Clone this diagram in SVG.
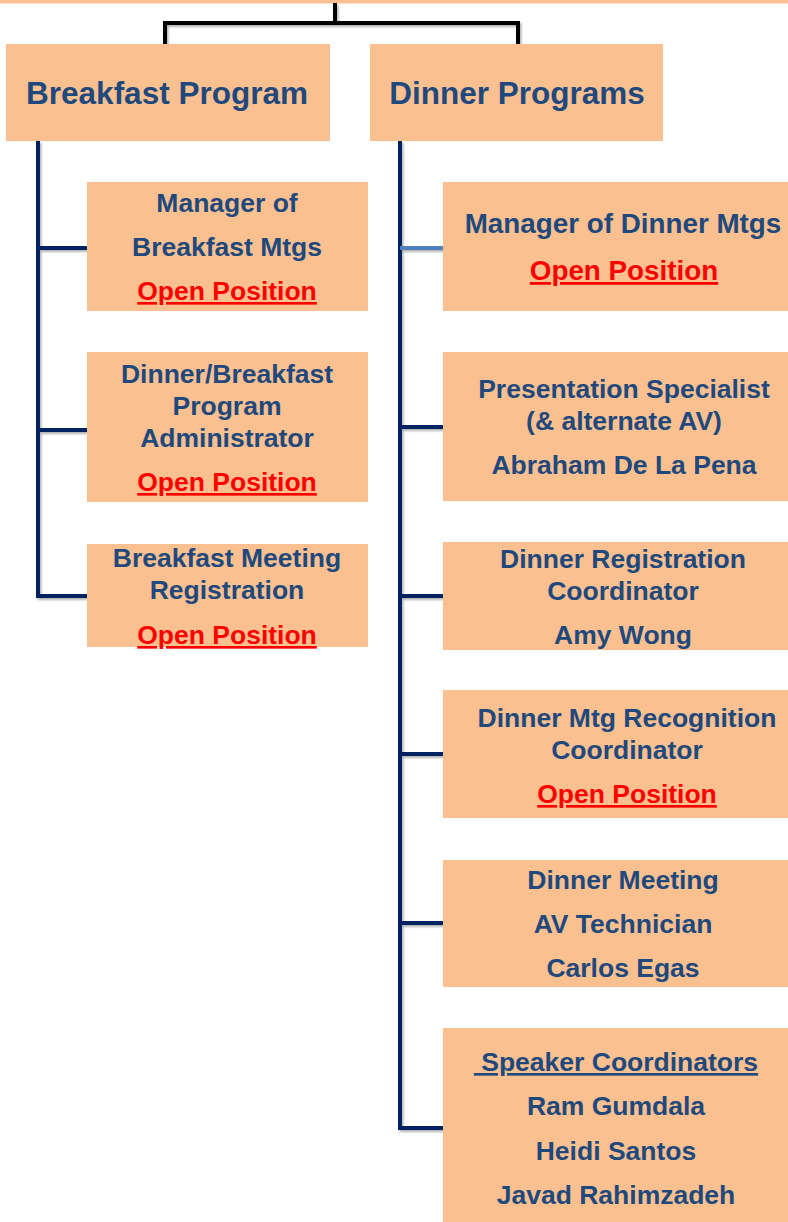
<svg xmlns="http://www.w3.org/2000/svg" width="788" height="1222" viewBox="0 0 788 1222">
<defs>
<style>
.box{fill:#FAC090;}
.t{font-family:"Liberation Sans",Arial,sans-serif;font-weight:bold;font-size:26.5px;fill:#1F497D;text-anchor:middle;}
.h{font-size:31.5px;}
.r{fill:#FF0000;text-decoration:underline;}
.u{text-decoration:underline;}
.nv{fill:none;stroke:#002060;stroke-width:4;}
.bk{fill:none;stroke:#000000;stroke-width:4;}
</style>
<filter id="sh" x="-20%" y="-20%" width="140%" height="140%">
<feDropShadow dx="1.5" dy="2" stdDeviation="1.2" flood-color="#000" flood-opacity="0.3"/>
</filter>
</defs>
<rect x="0" y="0" width="788" height="3.5" class="box"/>
<g id="connectors" filter="url(#sh)">
<path class="bk" d="M335,3 V23 M165,44 V23 H518 V44"/>
<path class="nv" d="M38,141 V596 H87 M38,248 H87 M38,430 H87"/>
<path class="nv" d="M400,141 V1128 H443 M400,427 H443 M400,596 H443 M400,754 H443 M400,923 H443"/>
<path d="M400,248 H443" fill="none" stroke="#4F81BD" stroke-width="4"/>
</g>
<g id="breakfast-program">
<rect class="box" x="6" y="44" width="324" height="97"/>
<text class="t h" x="167" y="104">Breakfast Program</text>
</g>
<g id="dinner-programs">
<rect class="box" x="370" y="44" width="293" height="97"/>
<text class="t h" x="517" y="104">Dinner Programs</text>
</g>
<g id="manager-breakfast">
<rect class="box" x="87" y="182" width="281" height="129"/>
<text class="t" x="227" y="212">Manager of</text>
<text class="t" x="227" y="256">Breakfast Mtgs</text>
<text class="t r" x="227" y="300">Open Position</text>
</g>
<g id="program-administrator">
<rect class="box" x="87" y="352" width="281" height="150"/>
<text class="t" x="227" y="383">Dinner/Breakfast</text>
<text class="t" x="227" y="415">Program</text>
<text class="t" x="227" y="447">Administrator</text>
<text class="t r" x="227" y="491">Open Position</text>
</g>
<g id="breakfast-registration">
<rect class="box" x="87" y="544" width="281" height="103"/>
<text class="t" x="227" y="567">Breakfast Meeting</text>
<text class="t" x="227" y="599">Registration</text>
<text class="t r" x="227" y="644">Open Position</text>
</g>
<g id="manager-dinner">
<rect class="box" x="443" y="182" width="345" height="129"/>
<text class="t" x="623" y="233" style="font-size:27.8px">Manager of Dinner Mtgs</text>
<text class="t r" x="624" y="280" style="font-size:27.8px">Open Position</text>
</g>
<g id="presentation-specialist">
<rect class="box" x="443" y="352" width="345" height="149"/>
<text class="t" x="624" y="398">Presentation Specialist</text>
<text class="t" x="624" y="430">(&amp; alternate AV)</text>
<text class="t" x="624" y="474">Abraham De La Pena</text>
</g>
<g id="dinner-registration">
<rect class="box" x="443" y="542" width="345" height="108"/>
<text class="t" x="623" y="568">Dinner Registration</text>
<text class="t" x="623" y="600">Coordinator</text>
<text class="t" x="623" y="644">Amy Wong</text>
</g>
<g id="recognition-coordinator">
<rect class="box" x="443" y="690" width="345" height="128"/>
<text class="t" x="627" y="727">Dinner Mtg Recognition</text>
<text class="t" x="627" y="759">Coordinator</text>
<text class="t r" x="627" y="803">Open Position</text>
</g>
<g id="av-technician">
<rect class="box" x="443" y="860" width="345" height="127"/>
<text class="t" x="623" y="889">Dinner Meeting</text>
<text class="t" x="623" y="933">AV Technician</text>
<text class="t" x="623" y="977">Carlos Egas</text>
</g>
<g id="speaker-coordinators">
<rect class="box" x="443" y="1028" width="345" height="194"/>
<text class="t u" x="616" y="1071" xml:space="preserve"> Speaker Coordinators</text>
<text class="t" x="616" y="1115">Ram Gumdala</text>
<text class="t" x="616" y="1160">Heidi Santos</text>
<text class="t" x="616" y="1204">Javad Rahimzadeh</text>
</g>
</svg>
